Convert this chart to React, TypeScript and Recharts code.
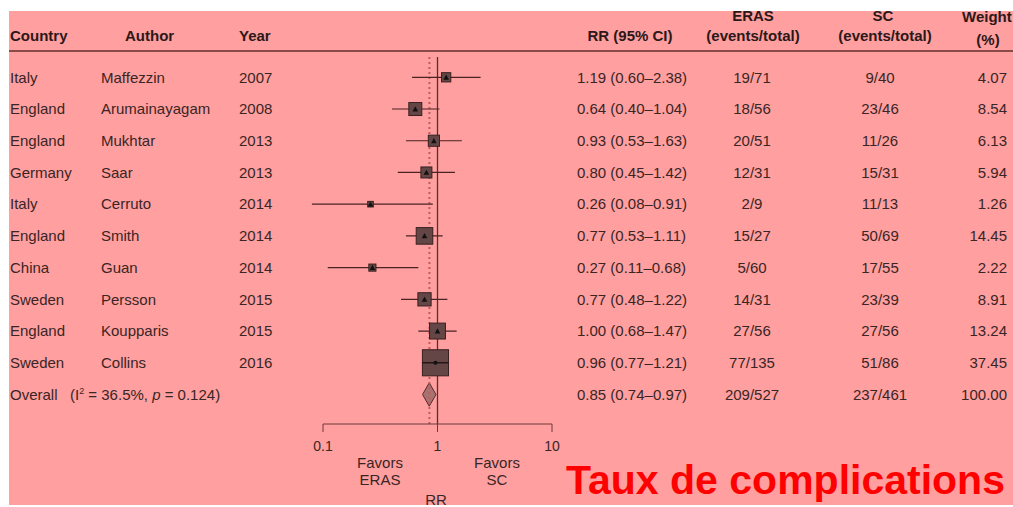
import { ComposedChart, Scatter, XAxis, YAxis, ReferenceLine, ReferenceArea } from "recharts";

const countries = ["Italy", "England", "England", "Germany", "Italy", "England", "China", "Sweden", "England", "Sweden"];
const authors = ["Maffezzin", "Arumainayagam", "Mukhtar", "Saar", "Cerruto", "Smith", "Guan", "Persson", "Koupparis", "Collins"];
const years = [2007, 2008, 2013, 2013, 2014, 2014, 2014, 2015, 2015, 2016];
const rr = [1.19, 0.64, 0.93, 0.8, 0.26, 0.77, 0.27, 0.77, 1.0, 0.96];
const ciLow = [0.6, 0.4, 0.53, 0.45, 0.08, 0.53, 0.11, 0.48, 0.68, 0.77];
const ciHigh = [2.38, 1.04, 1.63, 1.42, 0.91, 1.11, 0.68, 1.22, 1.47, 1.21];
const erasEvents = [19, 18, 20, 12, 2, 15, 5, 14, 27, 77];
const erasTotal = [71, 56, 51, 31, 9, 27, 60, 31, 56, 135];
const scEvents = [9, 23, 11, 15, 11, 50, 17, 23, 27, 51];
const scTotal = [40, 46, 26, 31, 13, 69, 55, 39, 56, 86];
const weights = [4.07, 8.54, 6.13, 5.94, 1.26, 14.45, 2.22, 8.91, 13.24, 37.45];

const overallRR = [0.85, 0.74, 0.97]; // estimate, low, high
const overallEras = [209, 527];
const overallSc = [237, 461];
const overallWeight = 100;

const xTicks = [0.1, 1, 10];

const FONT = "'Liberation Sans', Arial, sans-serif";
const TEXT = "#3a2525";
const HEAD = "#2c1818";
const PINK = "#FF9F9F";

const nStudies = countries.length;
const overallRow = nStudies + 1;
const rowTicks = Array.from({ length: nStudies + 1 }, (_, i) => i + 1);

const boxData = rr.map((v, i) => ({ x: v, y: i + 1, w: weights[i] }));

function BoxShape(props: any) {
  const { cx, cy, payload } = props;
  if (cx == null || cy == null) return null;
  const s = 1 + 4.1 * Math.sqrt(payload.w);
  const big = s > 22;
  return (
    <g>
      <rect x={cx - s / 2} y={cy - s / 2} width={s} height={s} fill="#654646" stroke="#3a2020" strokeWidth={1} />
      {big ? (
        <>
          <line x1={cx - s / 2} x2={cx + s / 2} y1={cy} y2={cy} stroke="#1a0a0a" strokeWidth={1.2} />
          <circle cx={cx} cy={cy} r={2} fill="#111" />
        </>
      ) : (
        <polygon points={`${cx - 2.8},${cy + 2.4} ${cx + 2.8},${cy + 2.4} ${cx},${cy - 2.8}`} fill="#111" />
      )}
    </g>
  );
}

function Diamond(props: any) {
  const { x, y, width, height } = props;
  const cx = x + width / 2;
  const cy = y + height / 2;
  return (
    <polygon
      points={`${x},${cy} ${cx},${y} ${x + width},${cy} ${cx},${y + height}`}
      fill="#a87272"
      stroke="#5a2a2a"
      strokeWidth={1}
    />
  );
}

function RowTick(props: any) {
  const { y, payload } = props;
  const row = payload.value;
  const i = row - 1;
  const isOverall = row === overallRow;
  const rrText = isOverall
    ? `${overallRR[0].toFixed(2)} (${overallRR[1].toFixed(2)}–${overallRR[2].toFixed(2)})`
    : `${rr[i].toFixed(2)} (${ciLow[i].toFixed(2)}–${ciHigh[i].toFixed(2)})`;
  const eras = isOverall ? `${overallEras[0]}/${overallEras[1]}` : `${erasEvents[i]}/${erasTotal[i]}`;
  const sc = isOverall ? `${overallSc[0]}/${overallSc[1]}` : `${scEvents[i]}/${scTotal[i]}`;
  const w = isOverall ? overallWeight.toFixed(2) : weights[i].toFixed(2);
  return (
    <g fill={TEXT} fontSize={15} fontFamily={FONT}>
      {isOverall ? (
        <text x={10} y={y} dy="0.35em">
          Overall
          <tspan x={70}>(I</tspan>
          <tspan dy={-6} fontSize={9}>2</tspan>
          <tspan dy={6}> = 36.5%, </tspan>
          <tspan fontStyle="italic">p</tspan>
          <tspan> = 0.124)</tspan>
        </text>
      ) : (
        <>
          <text x={10} y={y} dy="0.35em">{countries[i]}</text>
          <text x={101} y={y} dy="0.35em">{authors[i]}</text>
          <text x={239} y={y} dy="0.35em">{years[i]}</text>
        </>
      )}
      <text x={577} y={y} dy="0.35em">{rrText}</text>
      <text x={752} y={y} dy="0.35em" textAnchor="middle">{eras}</text>
      <text x={880} y={y} dy="0.35em" textAnchor="middle">{sc}</text>
      <text x={1007} y={y} dy="0.35em" textAnchor="end">{w}</text>
    </g>
  );
}

function Label({ text, cx, cy, left, size = 15, bold = false, color = HEAD, anchor = "center" }: any) {
  const lh = Math.round(size * 1.2);
  const style: any = {
    position: "absolute",
    top: cy - lh / 2,
    lineHeight: `${lh}px`,
    fontSize: size,
    fontWeight: bold ? "bold" : "normal",
    fontFamily: FONT,
    color,
    whiteSpace: "nowrap",
  };
  if (anchor === "left") style.left = left;
  else {
    style.left = cx - 200;
    style.width = 400;
    style.textAlign = "center";
  }
  return <div style={style}>{text}</div>;
}

export default function App() {
  return (
    <div style={{ position: "absolute", left: 0, top: 0, width: 1013, height: 507, background: "#fff", overflow: "hidden" }}>
      <div style={{ position: "absolute", left: 9, top: 11, width: 1004, height: 494, background: PINK }} />
      <div style={{ position: "absolute", left: 9, top: 50, width: 1004, height: 2, background: "#8a4a4a" }} />

      <Label text="Country" left={10} cy={36} bold anchor="left" />
      <Label text="Author" left={125} cy={36} bold anchor="left" />
      <Label text="Year" left={239} cy={36} bold anchor="left" />
      <Label text="RR (95% CI)" cx={630} cy={36} bold />
      <Label text="ERAS" cx={753} cy={16} bold />
      <Label text="(events/total)" cx={753} cy={36} bold />
      <Label text="SC" cx={883} cy={16} bold />
      <Label text="(events/total)" cx={885} cy={36} bold />
      <Label text="Weight" left={962} cy={17} bold anchor="left" />
      <Label text="(%)" cx={988} cy={40} bold />

      <Label text="Favors" cx={380} cy={463} color={TEXT} />
      <Label text="ERAS" cx={380} cy={480} color={TEXT} />
      <Label text="Favors" cx={497} cy={463} color={TEXT} />
      <Label text="SC" cx={497} cy={480} color={TEXT} />
      <Label text="RR" cx={436} cy={500} color={TEXT} />

      <Label text="Taux de complications" left={566} cy={480} size={41} bold color="#FF0000" anchor="left" />

      <div style={{ position: "absolute", left: 0, top: 0 }}>
        <ComposedChart width={1013} height={507} margin={{ top: 57, right: 461, bottom: 53, left: 8 }}>
          <XAxis
            type="number"
            dataKey="x"
            scale="log"
            domain={[0.1, 10]}
            ticks={xTicks}
            interval={0}
            allowDataOverflow
            tickSize={8}
            tickMargin={9}
            height={30}
            stroke="#6a3a3a"
            tick={{ fill: TEXT, fontSize: 14, fontFamily: FONT }}
            tickFormatter={(v: number) => String(v)}
          />
          <YAxis
            type="number"
            dataKey="y"
            domain={[0.36, 11.93]}
            reversed
            allowDataOverflow
            ticks={rowTicks}
            interval={0}
            width={315}
            axisLine={false}
            tickLine={false}
            tick={(p: any) => <RowTick {...p} />}
          />
          <ReferenceLine x={1} stroke="#5a2e2e" strokeWidth={1.3} />
          <ReferenceLine x={overallRR[0]} stroke="#c45a5a" strokeWidth={2} strokeDasharray="2 3" />
          {rr.map((_, i) => (
            <ReferenceLine
              key={i}
              ifOverflow="visible"
              segment={[
                { x: ciLow[i], y: i + 1 },
                { x: ciHigh[i], y: i + 1 },
              ]}
              stroke="#4a2222"
              strokeWidth={1.2}
            />
          ))}
          <ReferenceArea
            x1={overallRR[1]}
            x2={overallRR[2]}
            y1={overallRow - 0.37}
            y2={overallRow + 0.37}
            ifOverflow="visible"
            shape={(p: any) => <Diamond {...p} />}
          />
          <Scatter data={boxData} isAnimationActive={false} shape={(p: any) => <BoxShape {...p} />} />
        </ComposedChart>
      </div>
    </div>
  );
}
